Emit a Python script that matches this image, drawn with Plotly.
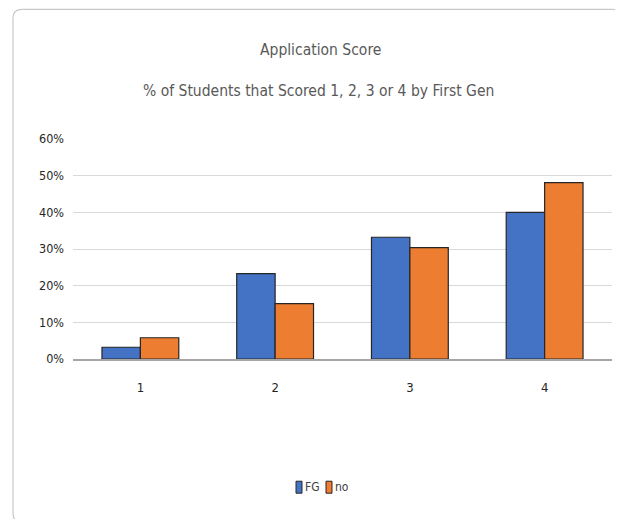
import plotly.graph_objects as go

categories = ["1", "2", "3", "4"]
fg_values = [0.032, 0.233, 0.332, 0.400]
no_values = [0.058, 0.151, 0.304, 0.481]
y_tickvals = [0, 0.1, 0.2, 0.3, 0.4, 0.5, 0.6]
y_ticktext = ["0%", "10%", "20%", "30%", "40%", "50%", "60%"]
title_line1 = "Application Score"
title_line2 = "% of Students that Scored 1, 2, 3 or 4 by First Gen"
series_names = ["FG", "no"]
series_colors = ["#4472C4", "#ED7D31"]

FONT = "DejaVu Sans Condensed, Liberation Sans Narrow, sans-serif"
OFF = 8  # page body margin
W, H = 623 - OFF, 519 - OFF
ML, MR, MT, MB = 73 - OFF, 11, 139 - OFF, 519 - 359.5

fig = go.Figure()
for name, vals, col in zip(series_names, [fg_values, no_values], series_colors):
    fig.add_trace(go.Bar(x=categories, y=vals, name=name, showlegend=False,
                         marker=dict(color=col, line=dict(color="#262626", width=1.2))))

pw = W - ML - MR
ph = H - MT - MB
def px(x):
    return (x - OFF - ML) / pw
def py(y):
    return (H - MB - (y - OFF)) / ph

r = 9
x0, y0, x1, y1 = 13, 9, 621, 523
path = (f"M {px(x0)},{py(y0 + r)} Q {px(x0)},{py(y0)} {px(x0 + r)},{py(y0)} "
        f"L {px(x1 - r)},{py(y0)} Q {px(x1)},{py(y0)} {px(x1)},{py(y0 + r)} "
        f"L {px(x1)},{py(y1 - r)} Q {px(x1)},{py(y1)} {px(x1 - r)},{py(y1)} "
        f"L {px(x0 + r)},{py(y1)} Q {px(x0)},{py(y1)} {px(x0)},{py(y1 - r)} Z")

shapes = [dict(type="path", path=path, xref="paper", yref="paper",
               line=dict(color="#c8c8c8", width=1.2), fillcolor="rgba(0,0,0,0)", layer="below")]
annotations = [
    dict(text=title_line1, x=px(320), xref="paper", y=py(50), yref="paper",
         xanchor="center", yanchor="middle", showarrow=False,
         font=dict(family=FONT, size=15.5, color="#595959")),
    dict(text=title_line2, x=px(318), xref="paper", y=py(91), yref="paper",
         xanchor="center", yanchor="middle", showarrow=False,
         font=dict(family=FONT, size=15.5, color="#595959")),
]
# custom compact legend
leg_x = [296, 326]
for lx, name, col in zip(leg_x, series_names, series_colors):
    shapes.append(dict(type="rect", xref="paper", yref="paper",
                       x0=px(lx), x1=px(lx + 6), y0=py(494), y1=py(482),
                       fillcolor=col, line=dict(color="#262626", width=1)))
    annotations.append(dict(text=name, x=px(lx + 7), xref="paper", y=py(488), yref="paper",
                            xanchor="left", yanchor="middle", showarrow=False,
                            font=dict(family=FONT, size=12, color="#404040")))

fig.update_layout(
    width=W, height=H,
    margin=dict(l=ML, r=MR, t=MT, b=MB, autoexpand=False),
    paper_bgcolor="white", plot_bgcolor="white",
    barmode="group", bargap=0.43, bargroupgap=0,
    font=dict(family=FONT, color="#404040"),
    showlegend=False,
    annotations=annotations,
    shapes=shapes,
)
fig.update_xaxes(showgrid=False, showline=True, linecolor="#a6a6a6", linewidth=1.5,
                 tickfont=dict(family=FONT, size=13, color="#262626"), ticks="",
                 ticklabelstandoff=16)
fig.update_yaxes(range=[0, 0.6], tickvals=y_tickvals, ticktext=y_ticktext,
                 showgrid=True, gridcolor="#d9d9d9", gridwidth=1.2, zeroline=False,
                 showline=False, tickfont=dict(family=FONT, size=12.5, color="#262626"),
                 ticks="", ticklabelstandoff=8)

fig.write_html("out.html")
